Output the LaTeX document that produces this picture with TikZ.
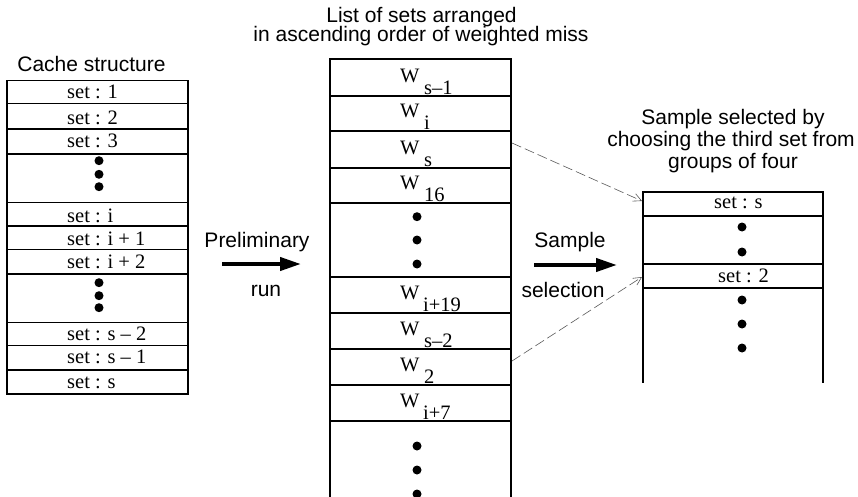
\documentclass[tikz,border=0pt]{standalone}
\usepackage{fontspec}
\setmainfont{Liberation Serif}
\setsansfont{Liberation Sans}
\usetikzlibrary{arrows.meta,calc}
\begin{document}
\begin{tikzpicture}[x=1pt,y=-1pt,
  cell/.style={draw, line width=1.5pt, inner sep=0, outer sep=0, minimum width=181pt},
  rcell/.style={draw, line width=1.5pt, inner sep=0, outer sep=0, minimum width=180pt},
  lbl/.style={font=\fontsize{20.5}{22}\selectfont, inner sep=0, anchor=base west},
  ttl/.style={font=\sffamily\fontsize{21}{22}\selectfont, inner sep=0, anchor=base},
  bigdot/.style={circle, fill, inner sep=0, minimum size=9pt},
  bigarrow/.style={line width=4pt, -{Triangle[length=21pt,width=13pt]}},
  pick/.style={draw=black!65, line width=0.6pt, dash pattern=on 10pt off 4pt, -{Straight Barb[length=8pt,width=8pt,line width=0.6pt]}}]
\useasboundingbox (0,0) rectangle (858,497);

% ---------- Titles ----------
\node[ttl] (t1) at (91.5,72) {Cache structure};
\node[ttl] (t2a) at (421.5,23) {List of sets arranged};
\node[ttl] (t2b) at (421,42) {in ascending order of weighted miss};
\node[ttl] (t3a) at (733,125) {Sample selected by};
\node[ttl] (t3b) at (731,147) {choosing the third set from};
\node[ttl] (t3c) at (733,168) {groups of four};

% ---------- Left column: cache structure ----------
\node[cell, minimum height=22.6pt] (L1)  at (97.5,92)     {};
\node[cell, minimum height=25.7pt] (L2)  at (97.5,116.15) {};
\node[cell, minimum height=25pt]   (L3)  at (97.5,141.5)  {};
\node[cell, minimum height=48.7pt] (Ld1) at (97.5,178.35) {};
\node[cell, minimum height=23.3pt] (Li)  at (97.5,214.35) {};
\node[cell, minimum height=23.3pt] (Li1) at (97.5,237.65) {};
\node[cell, minimum height=24.7pt] (Li2) at (97.5,261.65) {};
\node[cell, minimum height=48.7pt] (Ld2) at (97.5,298.35) {};
\node[cell, minimum height=23pt]   (Ls2) at (97.5,334.2)  {};
\node[cell, minimum height=24.3pt] (Ls1) at (97.5,357.85) {};
\node[cell, minimum height=24pt]   (Ls)  at (97.5,382)    {};

\node[lbl] (l1)  at (67,99)    {set : 1};
\node[lbl] (l2)  at (67,125)   {set : 2};
\node[lbl] (l3)  at (67,147.5) {set : 3};
\node[lbl] (li)  at (67,222.7) {set : i};
\node[lbl] (li1) at (67,245)   {set : i + 1};
\node[lbl] (li2) at (67,268)   {set : i + 2};
\node[lbl] (ls2) at (67,340.5) {set : s – 2};
\node[lbl] (ls1) at (67,363.5) {set : s – 1};
\node[lbl] (ls)  at (67,388)   {set : s};

\node[bigdot] (ld1a) at (99,160.7) {};
\node[bigdot] (ld1b) at (99,174.3) {};
\node[bigdot] (ld1c) at (99,186.7) {};
\node[bigdot] (ld2a) at (99,282.7) {};
\node[bigdot] (ld2b) at (99,295.7) {};
\node[bigdot] (ld2c) at (99,307.7) {};

% ---------- Middle column: sorted list ----------
\node[cell, minimum height=37pt] (ws1)  at (420.5,77.5)  {};
\node[cell, minimum height=35pt] (wi)   at (420.5,113.5) {};
\node[cell, minimum height=37pt] (ws)   at (420.5,149.5) {};
\node[cell, minimum height=35pt] (w16)  at (420.5,185.5) {};
\node[cell, minimum height=74pt] (md1)  at (420.5,240)   {};
\node[cell, minimum height=36pt] (wi19) at (420.5,295)   {};
\node[cell, minimum height=36pt] (ws2)  at (420.5,331)   {};
\node[cell, minimum height=36pt] (w2)   at (420.5,367)   {};
\node[cell, minimum height=36pt] (wi7)  at (420.5,403)   {};
\draw[line width=1.5pt] (wi7.south west) -- ++(0,80);
\draw[line width=1.5pt] (wi7.south east) -- ++(0,80);

\node[lbl] (W1) at (400,82.5)  {W}; \node[lbl] (S1) at (424,94.5)  {s–1};
\node[lbl] (W2) at (400,117.5) {W}; \node[lbl] (S2) at (424,129.5) {i};
\node[lbl] (W3) at (400,154.5) {W}; \node[lbl] (S3) at (424,166.5) {s};
\node[lbl] (W4) at (400,189.5) {W}; \node[lbl] (S4) at (424,201.5) {16};
\node[lbl] (W5) at (400,299.5) {W}; \node[lbl] (S5) at (423,311.5) {i+19};
\node[lbl] (W6) at (400,335.5) {W}; \node[lbl] (S6) at (424,347.5) {s–2};
\node[lbl] (W7) at (400,371.5) {W}; \node[lbl] (S7) at (424,383.5) {2};
\node[lbl] (W8) at (400,407.5) {W}; \node[lbl] (S8) at (423,419.5) {i+7};

\node[bigdot] (md1a) at (417,216.7) {};
\node[bigdot] (md1b) at (417,240)   {};
\node[bigdot] (md1c) at (417,264)   {};
\node[bigdot] (md2a) at (417,446)   {};
\node[bigdot] (md2b) at (417,470)   {};
\node[bigdot] (md2c) at (417,494)   {};

% ---------- Right column: sample ----------
\node[rcell, minimum height=24pt] (rs)  at (733,204) {};
\node[rcell, minimum height=48pt] (rd1) at (733,240) {};
\node[rcell, minimum height=24pt] (r2)  at (733,276) {};
\draw[line width=1.5pt] (r2.south west) -- ++(0,95);
\draw[line width=1.5pt] (r2.south east) -- ++(0,95);

\node[lbl] (rls) at (714,208.5) {set : s};
\node[lbl] (rl2) at (718,282.5) {set : 2};

\node[bigdot] (rd1a) at (742,227) {};
\node[bigdot] (rd1b) at (742,252) {};
\node[bigdot] (rd2a) at (742,300) {};
\node[bigdot] (rd2b) at (742,324) {};
\node[bigdot] (rd2c) at (742,348) {};

% ---------- Thick arrows ----------
\coordinate (pa) at (222,264);
\coordinate (pb) at (301,264);
\draw[bigarrow] (pa) -- (pb);
\node[ttl] (pt) at (257,247) {Preliminary};
\node[ttl] (pr) at (266,296) {run};

\coordinate (sa) at (534,265);
\coordinate (sb) at (617,265);
\draw[bigarrow] (sa) -- (sb);
\node[ttl] (st) at (570,247) {Sample};
\node[ttl] (ss) at (563,297) {selection};

% ---------- Dashed selection arrows ----------
\draw[pick] ($(ws.east)+(1,-6.5)$) -- ($(rs.west)+(-1,-3)$);
\draw[pick] ($(w2.east)+(1,-6)$) -- ($(r2.west)+(-1,1)$);
\end{tikzpicture}
\end{document}
